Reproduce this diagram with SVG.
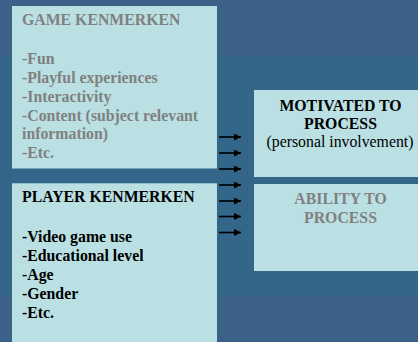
<svg xmlns="http://www.w3.org/2000/svg" width="418" height="342" viewBox="0 0 418 342">
<style>
.box{fill:#bae0e4}
.t{font-family:"Liberation Serif","Times New Roman",serif;font-size:15.8px}
.b{font-weight:bold}
.g{fill:#808080}
.k{fill:#000}
.c{text-anchor:middle}
.arr{stroke:#000;stroke-width:1.6;fill:none}
</style>
<defs>
<marker id="ah" markerWidth="8" markerHeight="8" refX="7" refY="3.5" orient="auto" markerUnits="userSpaceOnUse">
<path d="M0,0 L7,3.5 L0,7 Z" fill="#000"/>
</marker>
</defs>
<rect x="0" y="0" width="418" height="342" fill="#3b6188"/>
<rect x="0" y="57" width="418" height="239" fill="#336689"/>
<g id="game">
<rect class="box" x="12" y="6" width="205" height="162.5"/>
<text class="t b g" x="22" y="25">GAME KENMERKEN</text>
<text class="t b g" x="22" y="64">-Fun</text>
<text class="t b g" x="22" y="83">-Playful experiences</text>
<text class="t b g" x="22" y="101.8">-Interactivity</text>
<text class="t b g" x="22" y="120.6">-Content (subject relevant</text>
<text class="t b g" x="22" y="139.4">information)</text>
<text class="t b g" x="22" y="158.2">-Etc.</text>
</g>
<g id="player">
<rect class="box" x="12" y="183.3" width="205" height="158.7"/>
<text class="t b k" x="22" y="202.3">PLAYER KENMERKEN</text>
<text class="t b k" x="22" y="242.3">-Video game use</text>
<text class="t b k" x="22" y="261">-Educational level</text>
<text class="t b k" x="22" y="279.8">-Age</text>
<text class="t b k" x="22" y="298.8">-Gender</text>
<text class="t b k" x="22" y="317.6">-Etc.</text>
</g>
<g id="motivated">
<rect class="box" x="254" y="90" width="164" height="87"/>
<text class="t b k c" x="340.5" y="111">MOTIVATED TO</text>
<text class="t b k c" x="340.5" y="129.4">PROCESS</text>
<text class="t k c" x="340" y="146.8">(personal involvement)</text>
</g>
<g id="ability">
<rect class="box" x="254" y="184" width="164" height="87"/>
<text class="t b g c" x="340.5" y="204">ABILITY TO</text>
<text class="t b g c" x="340.5" y="222.7">PROCESS</text>
</g>
<g id="connectors">
<line class="arr" x1="219" y1="137" x2="241" y2="137" marker-end="url(#ah)"/>
<line class="arr" x1="219" y1="153" x2="241" y2="153" marker-end="url(#ah)"/>
<line class="arr" x1="219" y1="169" x2="241" y2="169" marker-end="url(#ah)"/>
<line class="arr" x1="219" y1="185" x2="241" y2="185" marker-end="url(#ah)"/>
<line class="arr" x1="219" y1="201" x2="241" y2="201" marker-end="url(#ah)"/>
<line class="arr" x1="219" y1="216.5" x2="241" y2="216.5" marker-end="url(#ah)"/>
<line class="arr" x1="219" y1="232.5" x2="241" y2="232.5" marker-end="url(#ah)"/>
</g>
</svg>
